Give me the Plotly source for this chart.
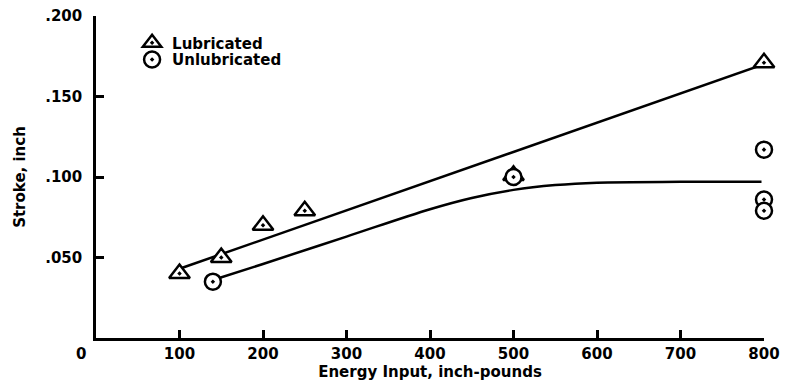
import plotly.graph_objects as go

# Measured points
lub_energy = [100, 150, 200, 250, 500, 800]
lub_stroke = [0.040, 0.050, 0.070, 0.079, 0.101, 0.171]

unlub_energy = [140, 500, 800, 800, 800]
unlub_stroke = [0.035, 0.100, 0.117, 0.086, 0.079]

# Faired curves
lub_fit_energy = [100, 800]
lub_fit_stroke = [0.043, 0.170]

unlub_fit_energy = [140, 200, 300, 400, 450, 500, 550, 600, 700, 797]
unlub_fit_stroke = [0.036, 0.046, 0.063, 0.080, 0.087, 0.092, 0.095, 0.0965, 0.097, 0.097]

x_ticks = [100, 200, 300, 400, 500, 600, 700, 800]
y_ticks = [0.05, 0.10, 0.15, 0.20]
y_tick_text = [".050", ".100", ".150", ".200"]

FONT = dict(family="DejaVu Sans, sans-serif", size=15, color="black", weight="bold")

fig = go.Figure()

fig.add_trace(go.Scatter(x=lub_fit_energy, y=lub_fit_stroke, mode="lines",
                         line=dict(color="black", width=2.5), showlegend=False,
                         hoverinfo="skip"))
fig.add_trace(go.Scatter(x=unlub_fit_energy, y=unlub_fit_stroke, mode="lines",
                         line=dict(color="black", width=2.5, shape="spline", smoothing=1.0),
                         showlegend=False, hoverinfo="skip"))

fig.add_trace(go.Scatter(x=lub_energy, y=lub_stroke, mode="markers", name="Lubricated",
                         legend="legend",
                         marker=dict(symbol="triangle-up-dot", size=18, color="white",
                                     line=dict(color="black", width=2.5)),
                         cliponaxis=False))
fig.add_trace(go.Scatter(x=unlub_energy, y=unlub_stroke, mode="markers", name="Unlubricated",
                         legend="legend2",
                         marker=dict(symbol="circle-dot", size=16, color="white",
                                     line=dict(color="black", width=2.5)),
                         cliponaxis=False))

fig.add_annotation(text="0", x=0, y=0, xref="x", yref="y", showarrow=False,
                   xanchor="right", yanchor="top", xshift=-8, yshift=-5, font=FONT)

legend_common = dict(x=0.054, xanchor="left", yanchor="middle",
                     bgcolor="rgba(0,0,0,0)", font=FONT, itemwidth=30)

fig.update_layout(
    width=785, height=389,
    margin=dict(l=96, r=21, t=16, b=51, autoexpand=False),
    paper_bgcolor="white", plot_bgcolor="white",
    font=FONT,
    legend=dict(y=0.916, **legend_common),
    legend2=dict(y=0.864, **legend_common),
    xaxis=dict(range=[0, 800], tickvals=x_ticks, ticks="inside", ticklen=8,
               tickwidth=2.5, tickcolor="black", showline=True, linecolor="black",
               linewidth=2.5, showgrid=False, zeroline=False, tickfont=FONT,
               automargin=False,
               title=dict(text="Energy Input, inch-pounds", standoff=5, font=FONT)),
    yaxis=dict(range=[0, 0.2], tickvals=y_ticks, ticktext=y_tick_text,
               ticks="inside", ticklen=8, tickwidth=2.5, tickcolor="black",
               showline=True, linecolor="black", linewidth=2.5, showgrid=False,
               zeroline=False, tickfont=FONT, automargin=False, ticklabelstandoff=8,
               title=dict(text="Stroke, inch", standoff=16, font=FONT)),
)

fig.write_html("out.html")
